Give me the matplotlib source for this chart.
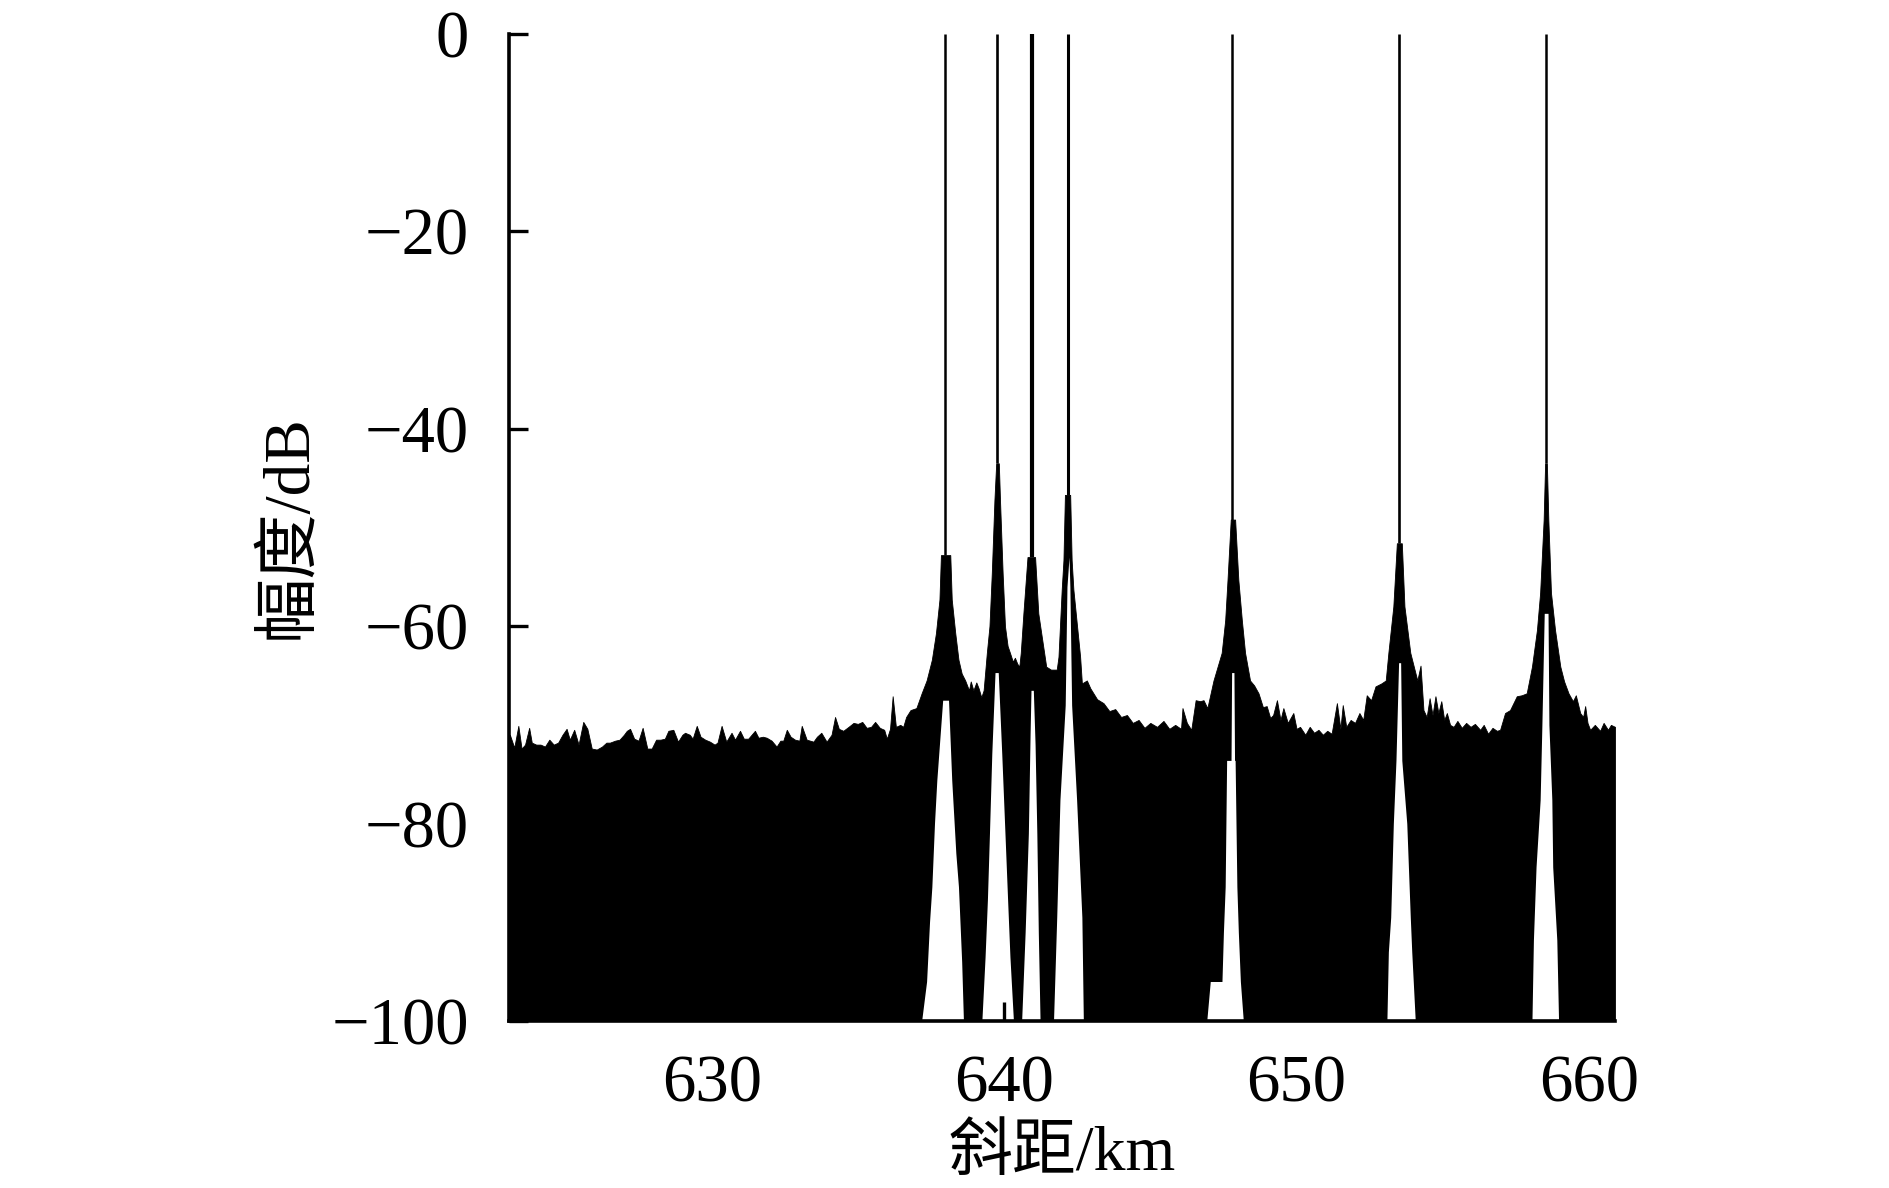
import matplotlib
matplotlib.use('Agg')
import matplotlib.pyplot as plt

plt.rcParams['font.family'] = ['Liberation Serif', 'Noto Sans CJK SC']
plt.rcParams['axes.unicode_minus'] = True

# upper envelope of the range profile (slant range km, amplitude dB)
env_km = [623.07, 623.10, 623.25, 623.39, 623.50, 623.62, 623.76, 623.85, 624.00, 624.15,
          624.30, 624.45, 624.60, 624.75, 624.90, 625.04, 625.15, 625.30, 625.45, 625.61,
          625.75, 625.90, 626.07, 626.25, 626.40, 626.52, 626.70, 626.85, 627.00, 627.10,
          627.21, 627.35, 627.50, 627.64, 627.80, 627.95, 628.10, 628.25, 628.40, 628.52,
          628.69, 628.85, 629.00, 629.09, 629.25, 629.35, 629.49, 629.62, 629.78, 629.94,
          630.10, 630.20, 630.34, 630.50, 630.68, 630.80, 630.97, 631.10, 631.25, 631.48,
          631.60, 631.75, 631.88, 632.05, 632.22, 632.35, 632.45, 632.57, 632.70, 632.85,
          633.00, 633.08, 633.25, 633.48, 633.60, 633.75, 633.93, 634.10, 634.22, 634.35,
          634.50, 634.68, 634.85, 635.00, 635.15, 635.30, 635.45, 635.59, 635.75, 635.90,
          635.99, 636.10, 636.19, 636.30, 636.45, 636.55, 636.65, 636.80, 637.00, 637.18,
          637.35, 637.53, 637.67, 637.79, 637.84, 638.16, 638.21, 638.33, 638.44, 638.55,
          638.67, 638.80, 638.86, 638.95, 639.05, 639.13, 639.22, 639.30, 639.41, 639.50,
          639.58, 639.67, 639.73, 639.82, 639.86, 639.95, 640.03, 640.12, 640.20, 640.30,
          640.37, 640.45, 640.52, 640.57, 640.66, 640.80, 641.06, 641.17, 641.37, 641.44,
          641.60, 641.80, 641.86, 641.97, 642.03, 642.08, 642.26, 642.31, 642.37, 642.60,
          642.66, 642.83, 642.95, 643.18, 643.40, 643.60, 643.80, 644.00, 644.20, 644.40,
          644.60, 644.80, 645.00, 645.23, 645.45, 645.65, 645.85, 646.05, 646.10, 646.25,
          646.40, 646.55, 646.70, 646.82, 646.95, 647.16, 647.44, 647.56, 647.64, 647.75,
          647.90, 648.01, 648.13, 648.24, 648.41, 648.55, 648.70, 648.85, 648.98, 649.10,
          649.20, 649.33, 649.45, 649.55, 649.70, 649.89, 650.00, 650.12, 650.30, 650.45,
          650.60, 650.75, 650.90, 651.05, 651.20, 651.38, 651.50, 651.58, 651.70, 651.85,
          652.00, 652.15, 652.28, 652.40, 652.55, 652.70, 652.90, 653.05, 653.14, 653.31,
          653.43, 653.60, 653.69, 653.89, 654.13, 654.24, 654.34, 654.45, 654.55, 654.65,
          654.75, 654.85, 654.95, 655.05, 655.14, 655.25, 655.37, 655.50, 655.65, 655.80,
          655.95, 656.10, 656.28, 656.40, 656.55, 656.70, 656.85, 656.96, 657.13, 657.30,
          657.53, 657.70, 657.87, 658.05, 658.22, 658.33, 658.45, 658.50, 658.56, 658.61,
          658.70, 658.84, 659.02, 659.15, 659.30, 659.45, 659.55, 659.70, 659.80, 659.87,
          659.95, 660.04, 660.20, 660.38, 660.50, 660.65, 660.75, 660.89]
env_db = [-71.3, -71.0, -72.3, -70.1, -72.4, -72.0, -70.3, -71.8, -72.0, -72.0,
          -72.2, -71.5, -72.0, -71.8, -71.0, -70.4, -71.5, -70.5, -72.0, -69.7,
          -70.4, -72.4, -72.5, -72.2, -71.8, -71.8, -71.6, -71.5, -71.0, -70.6,
          -70.4, -71.4, -71.6, -70.3, -72.4, -72.4, -71.5, -71.5, -71.4, -70.6,
          -70.5, -71.7, -71.0, -70.8, -71.0, -71.4, -70.1, -71.2, -71.5, -71.7,
          -72.0, -71.8, -70.1, -71.7, -70.8, -71.5, -70.6, -71.4, -71.4, -70.6,
          -71.3, -71.2, -71.3, -71.6, -72.2, -71.6, -71.6, -70.5, -71.2, -71.5,
          -71.6, -70.1, -71.5, -71.7, -71.2, -70.8, -71.7, -71.0, -69.2, -70.4,
          -70.6, -70.2, -69.8, -69.9, -69.7, -70.3, -70.2, -69.7, -70.3, -70.5,
          -71.4, -70.4, -67.1, -70.2, -70.0, -70.2, -69.2, -68.5, -68.3, -66.8,
          -65.5, -63.4, -60.7, -57.3, -52.8, -52.8, -57.3, -60.7, -63.4, -64.8,
          -65.5, -66.5, -65.6, -66.5, -65.7, -66.3, -67.2, -66.5, -62.7, -60.0,
          -54.6, -47.2, -43.5, -43.5, -47.2, -54.6, -60.0, -62.0, -62.7, -63.6,
          -63.2, -63.8, -64.1, -62.7, -58.7, -53.0, -53.0, -58.7, -62.7, -64.1,
          -64.4, -64.4, -63.1, -56.3, -53.3, -46.7, -46.7, -53.3, -56.3, -63.1,
          -65.8, -65.5, -66.3, -67.4, -67.8, -68.6, -68.4, -69.2, -69.0, -69.8,
          -69.5, -70.3, -69.8, -70.2, -69.6, -70.4, -70.0, -70.4, -68.3, -69.8,
          -70.5, -67.5, -67.6, -67.5, -68.3, -65.5, -62.7, -59.4, -55.3, -49.2,
          -49.2, -55.3, -59.4, -62.7, -65.5, -66.0, -66.8, -68.2, -68.1, -69.3,
          -69.0, -67.5, -69.5, -68.3, -69.8, -68.8, -70.4, -70.2, -71.0, -70.2,
          -70.8, -70.5, -71.0, -70.6, -70.9, -67.8, -70.4, -68.0, -70.2, -69.5,
          -69.8, -68.8, -69.5, -67.0, -67.5, -66.1, -65.8, -65.5, -62.7, -58.0,
          -51.6, -51.6, -58.0, -62.7, -65.5, -64.0, -68.5, -69.2, -67.3, -69.0,
          -67.1, -68.8, -67.6, -69.5, -68.8, -70.0, -70.2, -69.6, -70.3, -69.8,
          -70.2, -69.9, -70.5, -70.0, -70.9, -70.3, -70.6, -70.5, -68.8, -68.5,
          -67.1, -67.0, -66.8, -64.1, -60.4, -56.6, -49.2, -43.5, -43.5, -49.2,
          -56.6, -60.4, -64.1, -65.6, -66.8, -67.6, -67.0, -68.8, -69.2, -68.1,
          -69.8, -70.5, -70.0, -70.6, -69.8, -70.5, -70.0, -70.2]

# point targets: position, top of the thick part, line width
peak_km = [637.98, 639.77, 640.95, 642.18, 647.81, 653.52, 658.53]
peak_base = [-52.8, -43.5, -53.0, -46.7, -49.2, -51.6, -43.5]
peak_lw = [1.8, 1.9, 3.0, 2.2, 1.8, 1.9, 1.8]

# empty notches under each target (lower envelope of the sidelobes)
notch_km = [
    [637.18, 637.35, 637.45, 637.53, 637.62, 637.70, 637.90, 638.10, 638.21, 638.35, 638.44, 638.55, 638.61],
    [639.24, 639.35, 639.43, 639.50, 639.58, 639.69, 639.80, 639.92, 640.03, 640.12, 640.20, 640.32],
    [640.60, 640.72, 640.83, 640.89, 640.92, 641.00, 641.06, 641.12, 641.17, 641.23],
    [641.69, 641.80, 641.91, 642.09, 642.15, 642.22, 642.25, 642.31, 642.48, 642.66, 642.71],
    [646.93, 647.05, 647.45, 647.50, 647.56, 647.61, 647.76, 647.78, 647.86, 647.88, 647.90, 647.96, 648.01, 648.08, 648.18],
    [653.09, 653.14, 653.22, 653.31, 653.40, 653.49, 653.56, 653.60, 653.77, 653.89, 653.94, 654.06],
    [658.05, 658.10, 658.19, 658.33, 658.39, 658.47, 658.60, 658.63, 658.73, 658.76, 658.90, 658.96],
]
notch_db = [
    [-100, -96, -90, -86.4, -80, -75.6, -67.5, -67.5, -75.6, -83, -86.4, -94, -100],
    [-100, -93.5, -87.7, -81, -72.9, -64.7, -64.7, -72.9, -81, -87.7, -93.5, -100],
    [-100, -91, -81, -70.8, -66.5, -66.5, -72, -81, -91, -100],
    [-100, -89.5, -77.6, -68, -56, -53, -56, -68, -77.6, -89.5, -100],
    [-100, -96, -96, -91, -86.4, -73.6, -73.6, -64.7, -64.7, -73.6, -73.6, -86.4, -91, -96, -100],
    [-100, -93, -89.5, -80, -73.6, -63.7, -63.7, -73.6, -80, -89.5, -93, -100],
    [-100, -91.8, -84.4, -77.6, -70, -58.7, -58.7, -70, -77.6, -84.4, -91.8, -100],
]

x_ticks = [630, 640, 650, 660]
y_ticks = [0, -20, -40, -60, -80, -100]

fig = plt.figure(figsize=(18.9, 11.88), dpi=100)
ax = fig.add_axes([0.2693, 0.1406, 0.5852, 0.8308])

ax.fill_between(env_km, -100, env_db, color='black', lw=0.6)
for nk, nd in zip(notch_km, notch_db):
    ax.fill_between(nk, -100, nd, color='white', lw=0)
for k, b, w in zip(peak_km, peak_base, peak_lw):
    ax.vlines(k, b, 0, color='black', lw=w)

ax.set_xlim(623.07, 660.89)
ax.set_ylim(-100, 0)
ax.set_xticks(x_ticks)
ax.set_yticks(y_ticks)
ax.spines['top'].set_visible(False)
ax.spines['right'].set_visible(False)
for s in ['left', 'bottom']:
    ax.spines[s].set_linewidth(2.6)
ax.tick_params(axis='y', direction='in', length=13.5, width=2.4, labelsize=48, pad=29)
ax.tick_params(axis='x', direction='in', length=13.5, width=2.4, labelsize=48, pad=24)

fig.text(0.5622, 0.028, '斜距/km', fontsize=46, ha='center', va='center')
fig.text(0.153, 1 - 527 / 1188, '幅度/dB', fontsize=47, rotation=90, ha='center', va='center')

fig.savefig('out.png', dpi=100)
